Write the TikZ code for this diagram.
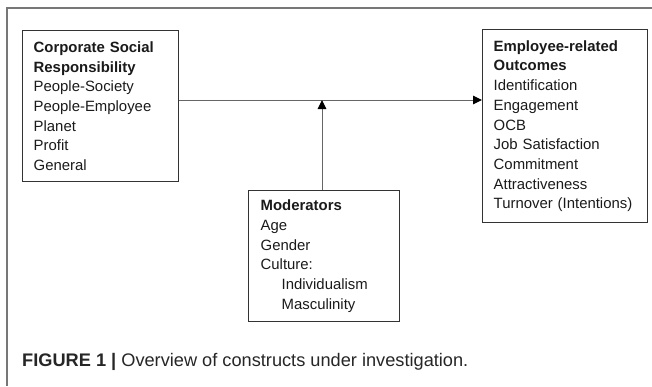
\documentclass[tikz,border=0pt]{standalone}
\usepackage{fontspec}
\setmainfont{Liberation Sans}
\usetikzlibrary{arrows.meta}
\definecolor{boxline}{HTML}{333333}
\definecolor{conn}{HTML}{666666}
\definecolor{frame}{HTML}{777777}
\definecolor{txt}{HTML}{1A1A1A}
\tikzset{
  box/.style={draw=boxline, line width=1.4pt, rectangle, align=left, anchor=north west,
    inner ysep=0pt, text=txt, font=\fontsize{14.9}{19.7}\selectfont},
  conn/.style={draw=conn, line width=1pt, -{Triangle[length=9pt,width=8.5pt,fill=black,color=black]}},
}
\begin{document}
\begin{tikzpicture}[x=1pt,y=-1pt]
\useasboundingbox (0,0) rectangle (652,386);
% outer frame (top and left edges)
\draw[frame, line width=1.5pt] (7,386) -- (7,8) -- (652,8);
\node[box, inner xsep=11pt, text width=134pt, minimum height=151pt] (csr) at (22,30)
  {\textbf{Corporate Social}\\ \textbf{Responsibility}\\ People-Society\\ People-Employee\\ Planet\\ Profit\\ General};
\node[box, inner xsep=11pt, text width=143pt, minimum height=193pt] (out) at (482,29)
  {\textbf{Employee-related}\\ \textbf{Outcomes}\\ Identification\\ Engagement\\ OCB\\ Job Satisfaction\\ Commitment\\ Attractiveness\\ Turnover (Intentions)};
\node[box, inner xsep=12pt, text width=127pt, minimum height=131pt] (mod) at (248,190)
  {\textbf{Moderators}\\ Age\\ Gender\\ Culture:\\ \hspace*{21pt}Individualism\\ \hspace*{21pt}Masculinity};
\coordinate (junc) at (322,100);
\draw[conn] (csr.east |- junc) -- (out.west |- junc);
\draw[conn] (mod.north -| junc) -- (junc);
\node[anchor=west, inner sep=0pt, text=black!85, font=\fontsize{18.2}{21}\selectfont] (cap) at (22,362)
  {\textbf{FIGURE 1 |} Overview of constructs under investigation.};
\end{tikzpicture}
\end{document}
